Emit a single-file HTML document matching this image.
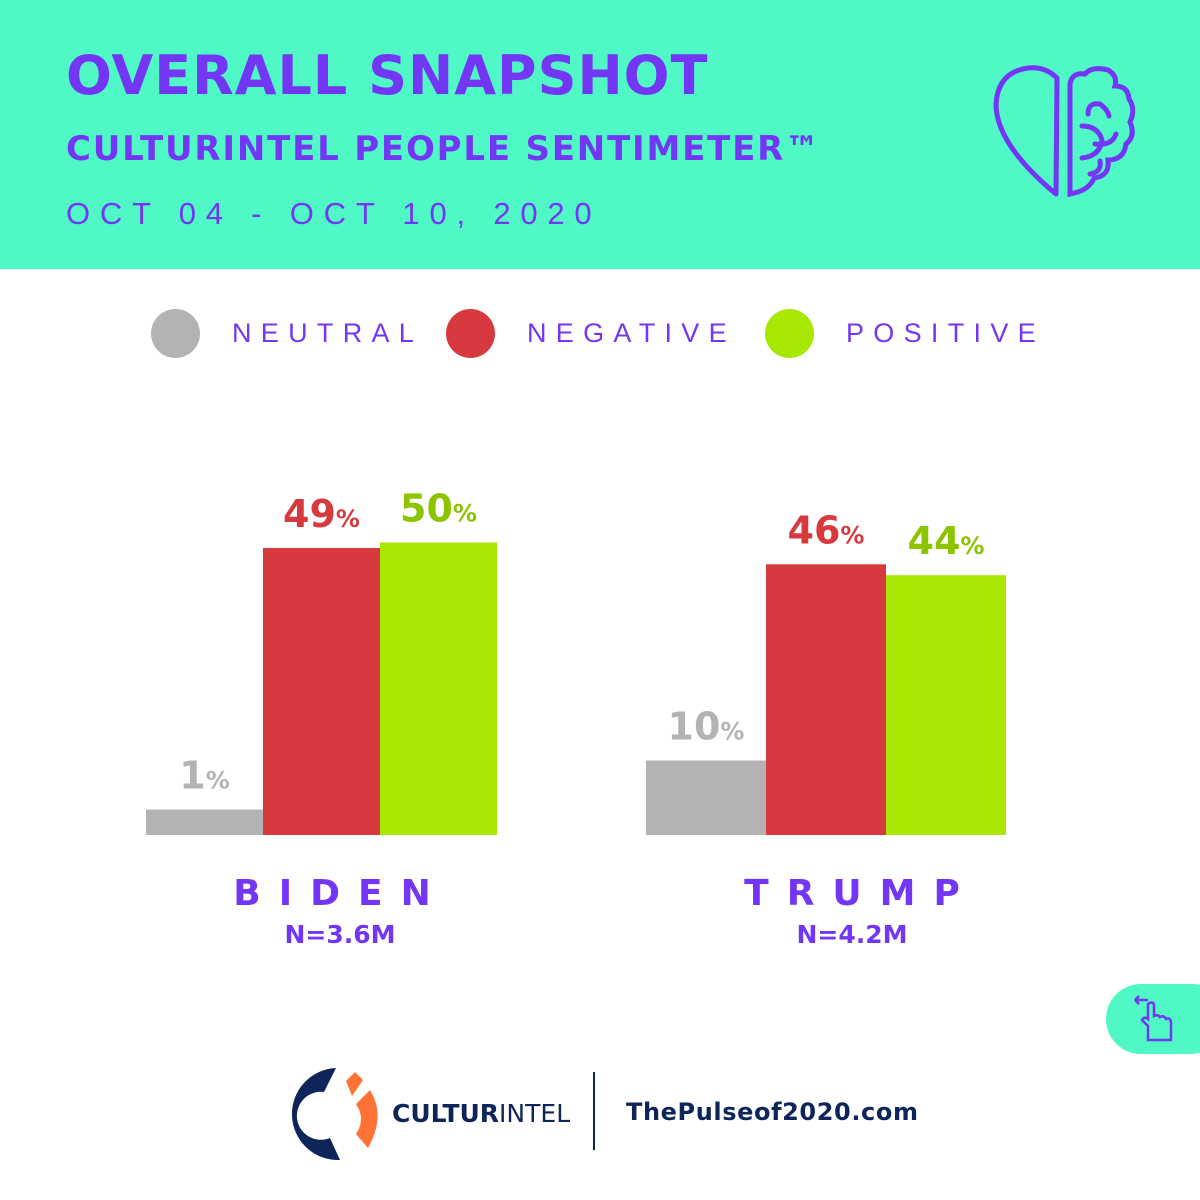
<!DOCTYPE html>
<html><head><meta charset="utf-8">
<style>
*{margin:0;padding:0;box-sizing:border-box}
body{width:1200px;height:1200px;background:#fff;position:relative;overflow:hidden;font-family:"Liberation Sans","DejaVu Sans",sans-serif}
.hdr{position:absolute;left:0;top:0;width:1200px;height:269px;background:#50F8C6}
.t1{position:absolute;left:66px;top:44px;font-size:54px;font-weight:900;color:#7436F5;letter-spacing:1px;font-family:"DejaVu Sans","Liberation Sans",sans-serif}
.t2{position:absolute;left:66px;top:129px;font-size:34px;font-weight:bold;color:#7436F5;letter-spacing:1.8px;font-family:"DejaVu Sans","Liberation Sans",sans-serif}
.t3{position:absolute;left:66px;top:196px;font-size:31px;color:#7436F5;letter-spacing:9.8px}
.leg{position:absolute;top:308px;height:50px;display:flex;align-items:center}
.dot{width:49px;height:49px;border-radius:50%}
.lt{font-size:27px;letter-spacing:9.3px;color:#7436F5;margin-left:32px}
svg text{font-family:"DejaVu Sans","Liberation Sans",sans-serif;font-weight:bold}
.name{position:absolute;font-size:36px;font-weight:900;color:#7436F5;letter-spacing:18px;font-family:"DejaVu Sans",sans-serif;text-align:center}
.n{position:absolute;font-size:25px;font-weight:bold;color:#7436F5;font-family:"DejaVu Sans",sans-serif;text-align:center}
</style></head><body>
<div class="hdr"></div>
<div class="t1">OVERALL SNAPSHOT</div>
<div class="t2">CULTURINTEL PEOPLE SENTIMETER™</div>
<div class="t3">OCT 04 - OCT 10, 2020</div>
<svg style="position:absolute;left:990px;top:64px" width="150" height="135" viewBox="0 0 150 135" fill="none" stroke="#7436F5" stroke-width="5" stroke-linecap="round">
<path d="M67 14 Q55 2 38 4 Q8 8 6 40 Q6 80 66 130 Z" stroke-linejoin="round"/>
<path d="M80 130 L80 20 Q82 8 95 10 Q102 2 118 6 Q128 12 125 22 Q138 22 139 35 Q146 45 140 58 Q146 72 136 80 Q134 96 118 96 Q120 112 104 114 Q100 124 88 128 Z"/>
<path d="M98 50 Q98 38 110 40 Q118 46 119 52"/><path d="M105 80 Q122 82 126 70"/><path d="M92 62 Q108 62 112 76 Q110 92 92 94"/><path d="M100 110 Q112 108 110 97"/>
</svg>
<div class="leg" style="left:151px"><div class="dot" style="background:#B3B3B3"></div><span class="lt">NEUTRAL</span></div>
<div class="leg" style="left:446px"><div class="dot" style="background:#D63A3E"></div><span class="lt">NEGATIVE</span></div>
<div class="leg" style="left:765px"><div class="dot" style="background:#A8E800"></div><span class="lt">POSITIVE</span></div>
<svg id="chart" style="position:absolute;left:0;top:0" width="1200" height="900"></svg>
<div class="name" style="left:191px;width:300px;top:873px">BIDEN</div>
<div class="n" style="left:190px;width:300px;top:920px">N=3.6M</div>
<div class="name" style="left:711px;width:300px;top:873px">TRUMP</div>
<div class="n" style="left:702px;width:300px;top:920px">N=4.2M</div>
<div style="position:absolute;left:1106px;top:984px;width:120px;height:70px;border-radius:35px;background:#50F8C6"></div>
<svg style="position:absolute;left:1132px;top:994px" width="45" height="50" viewBox="0 0 45 50" fill="none" stroke="#7436F5" stroke-width="2.5"><path d="M3 6 H16 M3 6 L7 2 M3 6 L7 10"/><path d="M16 46 L16 32 L10 26 Q12 22 16 25 L16 10 Q20 7 22 10 L22 22 Q26 20 28 23 Q32 21 34 25 Q38 23 39 28 L39 46 Z"/></svg>
<svg style="position:absolute;left:288px;top:1064px" width="100" height="100" viewBox="0 0 100 100">
<path d="M48 4 A46 46 0 1 0 52 96 L42 74 A24 24 0 1 1 36 28 Z" fill="#0D2559"/>
<path d="M58 17 L67 8 L75 16 L64 32 Z" fill="#FF7233"/><path d="M68 40 L82 26 Q98 52 80 84 L68 70 Q78 55 68 40Z" fill="#FF7233"/></svg>
<div style="position:absolute;left:392px;top:1099px;font-size:25px;color:#0D2559;font-family:'DejaVu Sans',sans-serif"><b>CULTUR</b>INTEL</div>
<div style="position:absolute;left:593px;top:1072px;width:2px;height:78px;background:#0D2559"></div>
<div style="position:absolute;left:626px;top:1098px;font-size:24px;font-weight:bold;color:#0D2559;letter-spacing:0.6px;font-family:'DejaVu Sans',sans-serif">ThePulseof2020.com</div>
<script>
const candidates=["Biden","Trump"];
const neutral=[1,10];
const negative=[49,46];
const positive=[50,44];
const series=[neutral,negative,positive];
const seriesNames=["neutral","negative","positive"];
const fills=["#B3B3B3","#D63A3E","#A8E800"];
const textFills=["#B3B3B3","#D63A3E","#8DC400"];
const base=835, scale=5.45, offset=20;
const groupX=[146,646], barW=[117,120];
function y(v){return base-(offset+v*scale);}
const svg=document.getElementById('chart');const ns="http://www.w3.org/2000/svg";
candidates.forEach((c,gi)=>{series.forEach((s,si)=>{
 const v=s[gi];const x=groupX[gi]+si*barW[gi];const top=y(v);
 const r=document.createElementNS(ns,'rect');
 r.setAttribute('x',x);r.setAttribute('y',top);r.setAttribute('width',barW[gi]);r.setAttribute('height',base-top);r.setAttribute('fill',fills[si]);
 
 
 svg.appendChild(r);
 const t=document.createElementNS(ns,'text');
 t.setAttribute('x',x+barW[gi]/2);t.setAttribute('y',top-21);t.setAttribute('text-anchor','middle');t.setAttribute('fill',textFills[si]);t.setAttribute('font-size','38');
 t.innerHTML=v+'<tspan font-size="24">%</tspan>';
 
 
 svg.appendChild(t);
});});
</script>
</body></html>
